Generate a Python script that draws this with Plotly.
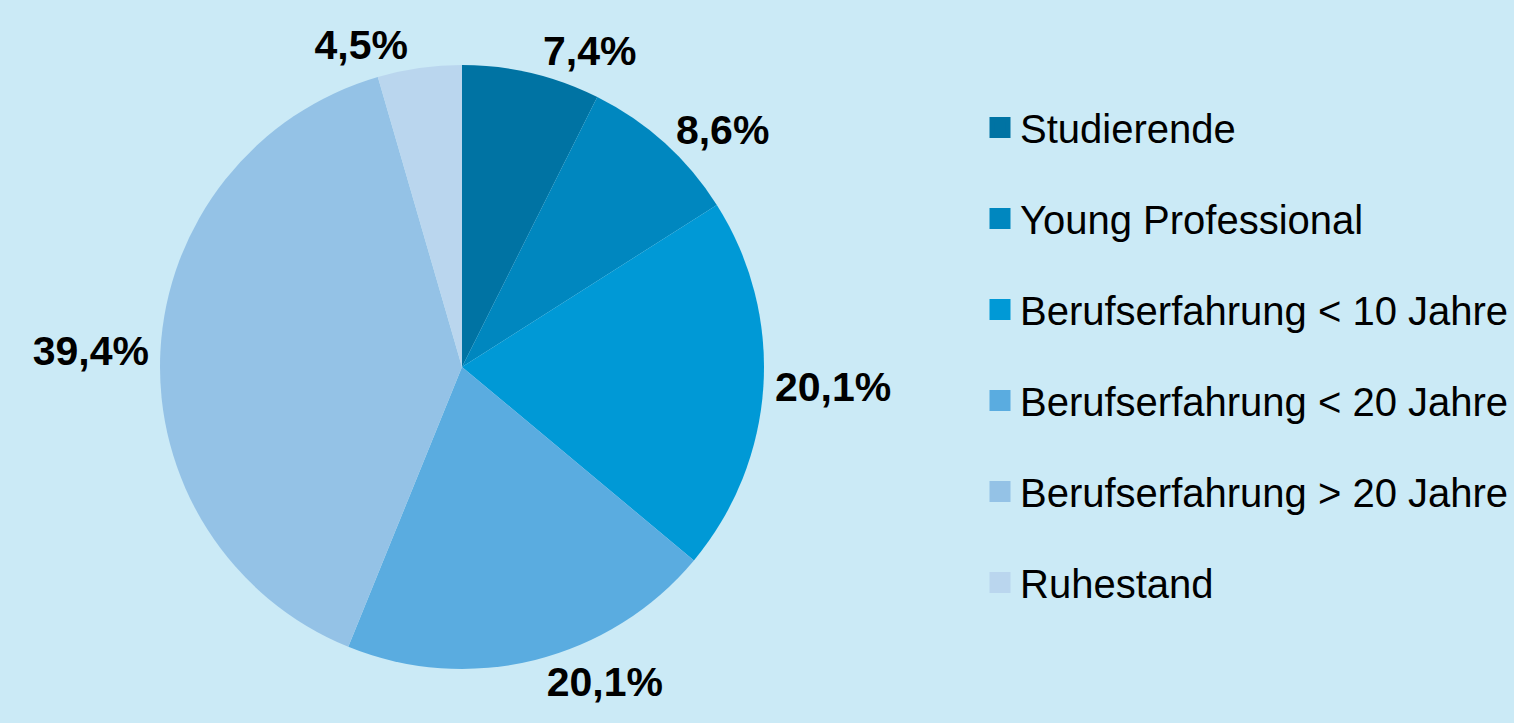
import plotly.graph_objects as go

labels = ["Studierende", "Young Professional", "Berufserfahrung < 10 Jahre",
          "Berufserfahrung < 20 Jahre", "Berufserfahrung > 20 Jahre", "Ruhestand"]
values = [7.4, 8.6, 20.1, 20.1, 39.4, 4.5]
value_text = ["7,4%", "8,6%", "20,1%", "20,1%", "39,4%", "4,5%"]
colors = ["#0073a3", "#0087bf", "#0099d6", "#5aace0", "#94c2e6", "#bad6ee"]

W, H = 1514, 723
BG = "#cbeaf6"

fig = go.Figure()
fig.add_trace(go.Pie(
    labels=labels, values=values, text=value_text,
    texttemplate="%{text}", textinfo="text", textposition="outside",
    textfont=dict(family="Liberation Sans, Arial", size=41, color="black", weight="bold"),
    marker=dict(colors=colors, line=dict(width=0)),
    sort=False, direction="clockwise", rotation=0,
    showlegend=False, hoverinfo="label+text",
    domain=dict(x=[160 / W, 764 / W], y=[(H - 669) / H, (H - 65) / H]),
))

# legend entries (one group each so the vertical spacing can be controlled)
for lab, col in zip(labels, colors):
    fig.add_trace(go.Scatter(
        x=[None], y=[None], mode="markers", name=lab, legendgroup=lab,
        marker=dict(symbol="square", size=16, color=col, line=dict(width=5, color=col)),
        hoverinfo="skip",
    ))

fig.update_layout(
    width=W, height=H,
    paper_bgcolor=BG, plot_bgcolor=BG,
    margin=dict(l=0, r=0, t=0, b=0),
    xaxis=dict(visible=False), yaxis=dict(visible=False),
    legend=dict(
        x=980 / W, xanchor="left", y=(H - 95) / H, yanchor="top",
        font=dict(family="Liberation Sans, Arial", size=40, color="black"),
        tracegroupgap=36, bgcolor="rgba(0,0,0,0)", borderwidth=0,
    ),
)

fig.write_html("out.html", config={"displayModeBar": False},
               post_script="document.body.style.margin='0px';")
